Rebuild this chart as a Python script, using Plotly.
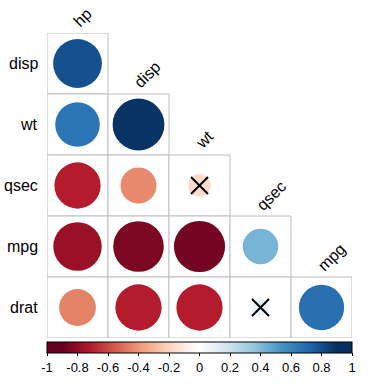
import plotly.graph_objects as go
from plotly.colors import sample_colorscale
import math

row_labels = ["disp", "wt", "qsec", "mpg", "drat"]
col_labels = ["hp", "disp", "wt", "qsec", "mpg"]
# lower-triangle correlations, row i has i+1 values (cols 0..i)
corr_rows = [
    [0.79],
    [0.66, 0.89],
    [-0.71, -0.43, -0.17],
    [-0.78, -0.85, -0.87, 0.42],
    [-0.45, -0.71, -0.71, 0.09, 0.68],
]
# non-significant cells (row, col) marked with a cross
insignificant = [(2, 2), (4, 3)]
tick_vals = [-1, -0.8, -0.6, -0.4, -0.2, 0, 0.2, 0.4, 0.6, 0.8, 1]
tick_text = ["-1", "-0.8", "-0.6", "-0.4", "-0.2", "0", "0.2", "0.4", "0.6", "0.8", "1"]

rdbu = ["#67001F", "#B2182B", "#D6604D", "#F4A582", "#FDDBC7", "#FFFFFF",
        "#D1E5F0", "#92C5DE", "#4393C3", "#2166AC", "#053061"]
stop_r = [-0.9, -0.72, -0.54, -0.36, -0.18, 0, 0.18, 0.36, 0.54, 0.72, 0.9]
cscale = [[0.0, rdbu[0]]] + [[(r + 1) / 2, c] for r, c in zip(stop_r, rdbu)] + [[1.0, rdbu[-1]]]

FONT = "Liberation Sans, Arial, sans-serif"
fig = go.Figure()
shapes = []
annotations = []

for i, row in enumerate(corr_rows):
    for j, r in enumerate(row):
        shapes.append(dict(type="rect", xref="x", yref="y",
                           x0=j - 0.5, x1=j + 0.5, y0=i - 0.5, y1=i + 0.5,
                           line=dict(color="#BEBEBE", width=1), fillcolor="white", layer="below"))
        rad = 0.45 * math.sqrt(abs(r))
        col = sample_colorscale(cscale, [(r + 1) / 2])[0]
        shapes.append(dict(type="circle", xref="x", yref="y",
                           x0=j - rad, x1=j + rad, y0=i - rad, y1=i + rad,
                           line=dict(width=0), fillcolor=col, layer="below"))

allx, ally, allr = [], [], []
for i, row in enumerate(corr_rows):
    for j, r in enumerate(row):
        allx.append(j); ally.append(i); allr.append(r)
fig.add_trace(go.Scatter(
    x=allx, y=ally, mode="markers",
    marker=dict(size=1, opacity=0, color=allr, colorscale=cscale, cmin=-1, cmax=1,
                showscale=True,
                colorbar=dict(orientation="h", x=0.5, xanchor="center", xref="paper",
                              y=-0.013, yanchor="top", yref="paper",
                              len=305, lenmode="pixels", thickness=11,
                              xpad=0, ypad=0, outlinecolor="black", outlinewidth=1,
                              tickvals=tick_vals, ticktext=tick_text,
                              ticks="outside", ticklen=3, tickcolor="black",
                              tickfont=dict(family=FONT, size=13, color="black"))),
    hoverinfo="skip", showlegend=False))

fig.add_trace(go.Scatter(
    x=[c for (r_, c) in insignificant], y=[r_ for (r_, c) in insignificant],
    mode="markers",
    marker=dict(symbol="x-thin", size=17, line=dict(width=2, color="black"), color="black"),
    hoverinfo="skip", showlegend=False))

for i, lab in enumerate(row_labels):
    annotations.append(dict(x=-0.5, y=i, xref="x", yref="y", text=lab, showarrow=False,
                            xanchor="right", yanchor="middle", xshift=-7,
                            font=dict(family=FONT, size=16, color="black")))
for j, lab in enumerate(col_labels):
    annotations.append(dict(x=j, y=j - 0.5, xref="x", yref="y", text=lab, showarrow=False,
                            xanchor="left", yanchor="bottom", textangle=-45, yshift=0, xshift=-10,
                            font=dict(family=FONT, size=16, color="black")))

fig.update_layout(
    width=384, height=384,
    margin=dict(l=47, r=32, t=33, b=46, autoexpand=False),
    paper_bgcolor="white", plot_bgcolor="white",
    xaxis=dict(range=[-0.5, 4.5], visible=False, fixedrange=True),
    yaxis=dict(range=[4.5, -0.5], visible=False, fixedrange=True),
    shapes=shapes, annotations=annotations,
)
fig.write_html("out.html", config={"displayModeBar": False},
               post_script="document.body.style.margin='0px';document.body.style.overflow='hidden';")
